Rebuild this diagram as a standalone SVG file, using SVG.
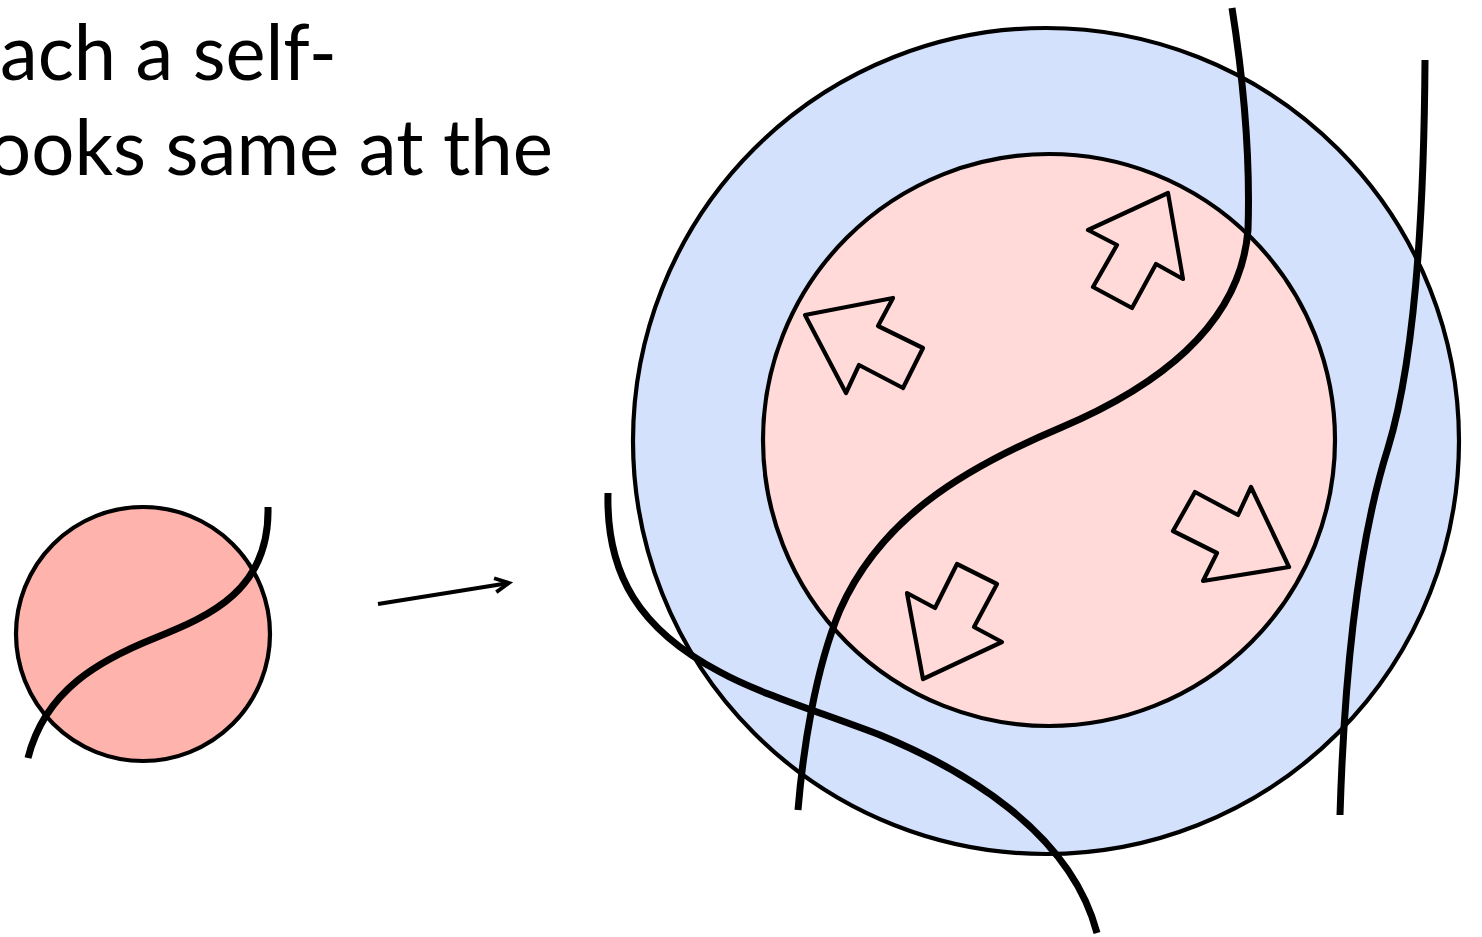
<svg xmlns="http://www.w3.org/2000/svg" width="1482" height="937" viewBox="0 0 1482 937">
<defs>
<style>
.txt{font-family:"Lato","Noto Sans","Liberation Sans",sans-serif;font-size:78px;fill:#000}
.ring{stroke:#000;stroke-width:4.2}
.thick{fill:none;stroke:#000;stroke-width:7}
.blk{fill:#FFDAD8;stroke:#000;stroke-width:4.2;stroke-linejoin:round}
</style>
<marker id="ah" viewBox="0 0 20 20" refX="16" refY="10" markerWidth="20" markerHeight="20" markerUnits="userSpaceOnUse" orient="auto">
<path d="M2,3 L16,10 L2,17" fill="none" stroke="#000" stroke-width="3.8"/>
</marker>
</defs>
<rect width="1482" height="937" fill="#fff"/>
<g id="title">
<text class="txt" x="0" y="80" textLength="337" lengthAdjust="spacingAndGlyphs">ach a self-</text>
<text class="txt" x="-12" y="175" textLength="565" lengthAdjust="spacingAndGlyphs">ooks same at the</text>
</g>
<g id="small">
<circle class="ring" cx="143" cy="634" r="127" fill="#FFB3AD"/>
<path class="thick" d="M28,758 C45,690 100,660 155,638 C210,616 270,590 268,507"/>
</g>
<g id="big">
<circle class="ring" cx="1046" cy="441" r="413" fill="#D3E1FC"/>
<circle class="ring" cx="1049" cy="440" r="286" fill="#FFDAD8"/>
</g>
<g id="arrows">
<polygon class="blk" points="1168,193 1183,279 1156,264 1132,308 1093,287 1117,245 1088,230"/>
<polygon class="blk" points="805,315 893,298 878,326 923,348 903,388 859,365 846,393"/>
<polygon class="blk" points="1195,492 1238,515 1251,487 1289,567 1203,581 1217,553 1173,531"/>
<polygon class="blk" points="957,564 997,584 974,627 1002,642 923,679 907,593 935,608"/>
</g>
<g id="connectors">
<line x1="378" y1="604" x2="509" y2="583" stroke="#000" stroke-width="4" marker-end="url(#ah)"/>
<path class="thick" d="M1232,8 C1245,90 1250,170 1248,230 C1240,330 1150,390 1060,428 C960,470 880,520 840,610 C815,670 803,750 798,810"/>
<path class="thick" d="M608,493 C606,575 640,630 720,672 C760,694 820,712 880,735 C960,768 1070,830 1097,933"/>
<path class="thick" d="M1425,60 C1424,220 1415,360 1388,448 C1362,530 1345,650 1340,815"/>
</g>
</svg>
